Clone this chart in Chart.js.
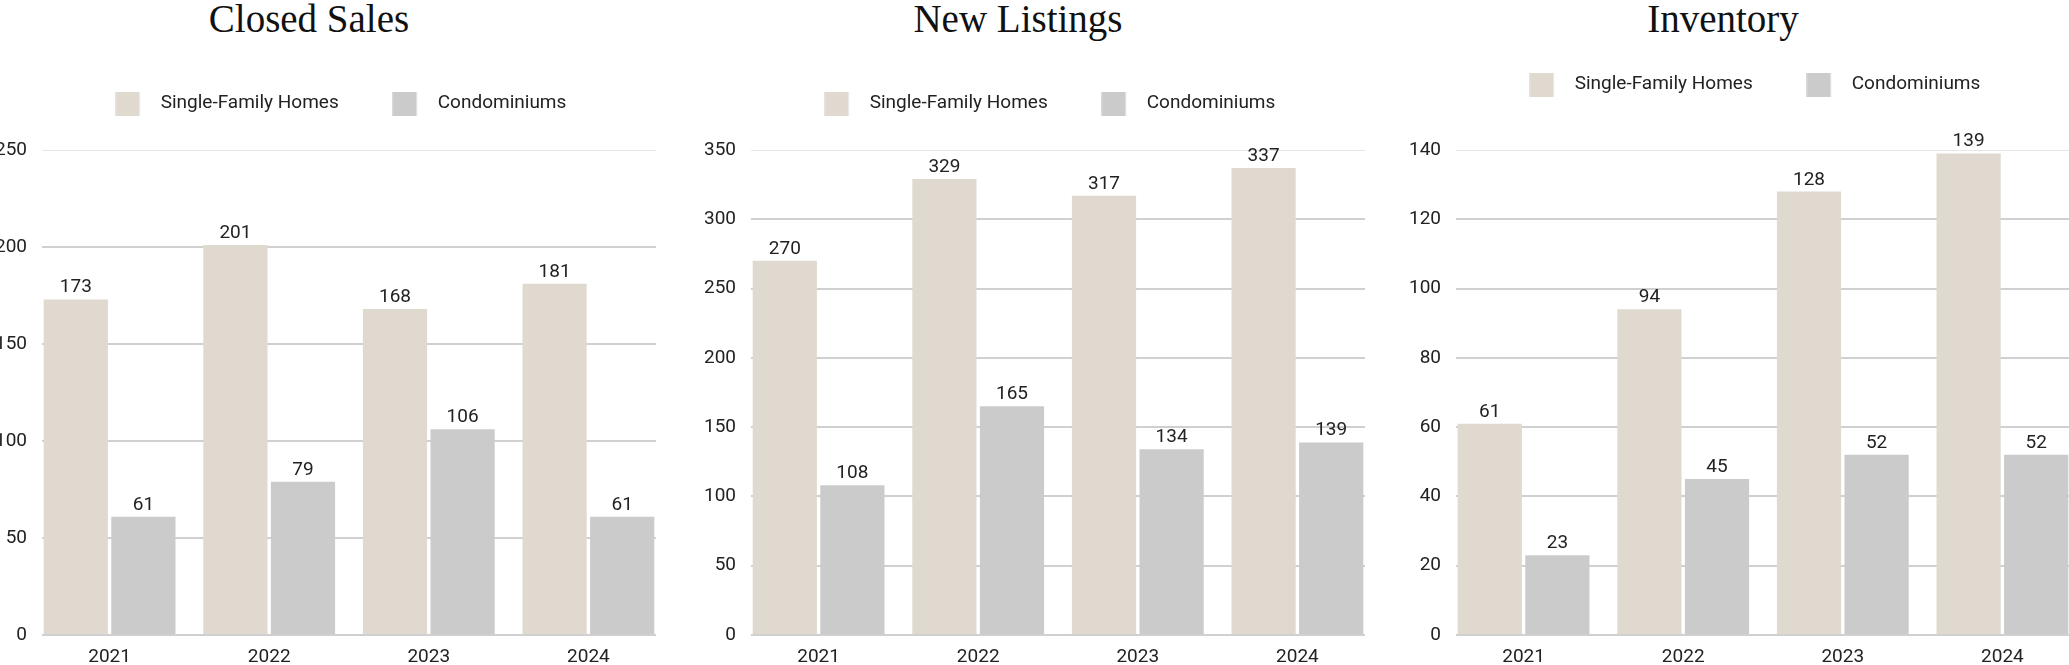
<!DOCTYPE html>
<html>
<head>
<meta charset="utf-8">
<script src="https://cdn.jsdelivr.net/npm/chart.js@4.4.1/dist/chart.umd.min.js"></script>
<style>
  html, body { margin: 0; padding: 0; background: #fff; }
  body { width: 2069px; height: 665px; position: relative; overflow: hidden; }
  .panel { position: absolute; top: 0; width: 694px; height: 665px; }
  .panel h2 {
    position: absolute; top: 0; left: 0; width: 100%; margin: 0;
    text-align: center; font: 400 39px/38px "Liberation Serif", serif; color: #111;
  }
  .panel canvas { position: absolute; top: 0; left: 0; }
</style>
</head>
<body>
<div class="panel" style="left:-38px"><h2>Closed Sales</h2><canvas id="closed" width="694" height="665"></canvas></div>
<div class="panel" style="left:671px"><h2>New Listings</h2><canvas id="listings" width="694" height="665"></canvas></div>
<div class="panel" style="left:1376px"><h2>Inventory</h2><canvas id="inventory" width="694" height="665"></canvas></div>
<script>
const years = ['2021', '2022', '2023', '2024'];
const seriesNames = ['Single-Family Homes', 'Condominiums'];

const closedSingle = [173, 201, 168, 181];
const closedCondo = [61, 79, 106, 61];
const listingsSingle = [270, 329, 317, 337];
const listingsCondo = [108, 165, 134, 139];
const inventorySingle = [61, 94, 128, 139];
const inventoryCondo = [23, 45, 52, 52];

const singleColor = '#e0d9d0';
const condoColor = '#cbcbcb';
const numFont = { family: 'Roboto', size: 19 };

// years sit on a linear axis so the bar groups can run flush to the plot edges
const half = 0.4235;

// legend swatch as an image, so the gap between box and text can be wider than Chart.js allows
const lead = -16, sq = 24, textGap = 21, legendFont = 19;
const swatchW = lead + sq + textGap - legendFont / 2;
function swatch(color) {
  const cx = swatchW / 2;
  const reach = Math.ceil(Math.max(Math.abs(lead - cx), Math.abs(lead + sq - cx)));
  const c = document.createElement('canvas');
  c.width = reach * 2;
  c.height = sq;
  const g = c.getContext('2d');
  g.fillStyle = color;
  g.fillRect(reach + lead - cx, 0, sq, sq);
  return c;
}

// push the plot down from the legend
const legendGap = extra => ({
  id: 'legendGap',
  beforeInit(chart) {
    const fit = chart.legend.fit;
    chart.legend.fit = function () {
      fit.call(this);
      this.height += extra;
    };
  }
});

const barValues = {
  id: 'barValues',
  afterDatasetsDraw(chart) {
    const { ctx } = chart;
    ctx.save();
    ctx.font = '19px Roboto';
    ctx.fillStyle = '#222';
    ctx.textAlign = 'center';
    ctx.textBaseline = 'alphabetic';
    chart.data.datasets.forEach((ds, d) => {
      chart.getDatasetMeta(d).data.forEach((bar, i) => {
        ctx.fillText(ds.data[i].y, bar.x, bar.y - 7);
      });
    });
    ctx.restore();
  }
};

function makeChart(id, single, condo, yMax, yStep, padTop, gap) {
  const points = vals => vals.map((v, i) => ({ x: i, y: v }));
  const barOpts = { categoryPercentage: half * 2, barPercentage: 0.95, borderWidth: 0 };
  new Chart(document.getElementById(id), {
    type: 'bar',
    data: {
      datasets: [
        { label: seriesNames[0], data: points(single), backgroundColor: singleColor, pointStyle: swatch(singleColor), ...barOpts },
        { label: seriesNames[1], data: points(condo), backgroundColor: condoColor, pointStyle: swatch(condoColor), ...barOpts }
      ]
    },
    options: {
      responsive: false,
      animation: false,
      events: [],
      layout: { padding: { top: padTop, left: 0, right: 0, bottom: 0 } },
      plugins: {
        tooltip: { enabled: false },
        legend: {
          fullSize: false,
          labels: {
            usePointStyle: true,
            pointStyleWidth: swatchW,
            padding: 70,
            color: '#222',
            font: { family: 'Roboto', size: legendFont }
          }
        }
      },
      scales: {
        x: {
          type: 'linear',
          offset: false,
          min: -half,
          max: years.length - 1 + half,
          grid: { display: false, offset: false },
          border: { display: false },
          afterBuildTicks: s => { s.ticks = years.map((y, i) => ({ value: i })); },
          afterFit: s => { s.height = 30; },
          ticks: {
            stepSize: 1,
            includeBounds: false,
            padding: 3,
            color: '#222',
            font: numFont,
            callback: v => years[v]
          }
        },
        y: {
          min: 0,
          max: yMax,
          grid: {
            drawTicks: false,
            color: c => c.tick && c.tick.value === yMax ? '#e6e6e6' : '#d0d0d0',
            lineWidth: c => c.tick && c.tick.value === yMax ? 1 : 2
          },
          border: { display: false },
          afterFit: s => { s.width = 80; },
          ticks: { stepSize: yStep, padding: 15, color: '#222', font: numFont }
        }
      }
    },
    plugins: [barValues, legendGap(gap)]
  });
}

makeChart('closed', closedSingle, closedCondo, 250, 50, 24, 27);
makeChart('listings', listingsSingle, listingsCondo, 350, 50, 24, 27);
makeChart('inventory', inventorySingle, inventoryCondo, 140, 20, 5, 46);
</script>
</body>
</html>
